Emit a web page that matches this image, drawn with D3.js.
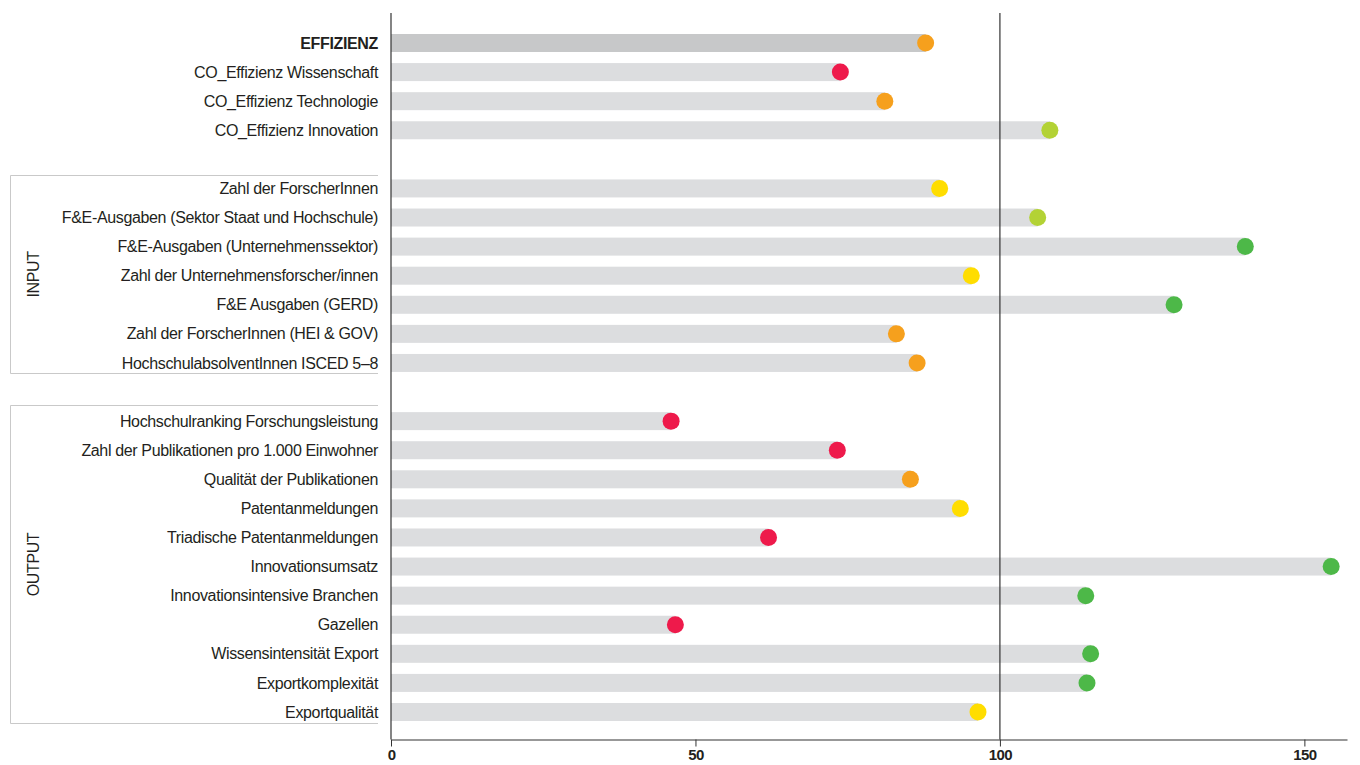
<!DOCTYPE html>
<html>
<head>
<meta charset="utf-8">
<script src="https://cdnjs.cloudflare.com/ajax/libs/d3/7.8.5/d3.min.js"></script>
<style>
    body { margin: 0; background: #fff; }
    svg text { font-family: "Liberation Sans", Arial, sans-serif; fill: #231f20; }
</style>
</head>
<body>
<div id="chart"></div>
<script>
'use strict';

// Indicator groups, values (index, 100 = reference)
const effizienzLabels = ['EFFIZIENZ', 'CO_Effizienz Wissenschaft', 'CO_Effizienz Technologie', 'CO_Effizienz Innovation'];
const effizienzValues = [87.8, 73.8, 81.1, 108.2];
const effizienzRating = ['orange', 'red', 'orange', 'lime'];

const inputLabels = ['Zahl der ForscherInnen', 'F&E-Ausgaben (Sektor Staat und Hochschule)', 'F&E-Ausgaben (Unternehmenssektor)',
    'Zahl der Unternehmensforscher/innen', 'F&E Ausgaben (GERD)', 'Zahl der ForscherInnen (HEI & GOV)', 'HochschulabsolventInnen ISCED 5–8'];
const inputValues = [90.1, 106.2, 140.3, 95.3, 128.6, 83.0, 86.4];
const inputRating = ['yellow', 'lime', 'green', 'yellow', 'green', 'orange', 'orange'];

const outputLabels = ['Hochschulranking Forschungsleistung', 'Zahl der Publikationen pro 1.000 Einwohner', 'Qualität der Publikationen',
    'Patentanmeldungen', 'Triadische Patentanmeldungen', 'Innovationsumsatz', 'Innovationsintensive Branchen', 'Gazellen',
    'Wissensintensität Export', 'Exportkomplexität', 'Exportqualität'];
const outputValues = [46.0, 73.3, 85.3, 93.5, 62.0, 154.4, 114.1, 46.7, 114.9, 114.3, 96.4];
const outputRating = ['red', 'red', 'orange', 'yellow', 'red', 'green', 'green', 'red', 'green', 'green', 'yellow'];

const xTicks = [0, 50, 100, 150];

const ratingColor = { red: '#ee1a4b', orange: '#f6a01d', yellow: '#ffdd00', lime: '#b3d235', green: '#4db848' };

const width = 1360, height = 765;
const barH = 18, dotR = 8.5;

const rows = [];
const addGroup = function(group, labels, values, rating) {
    labels.forEach((l, i) => rows.push({ key: l, name: l, value: values[i], rating: rating[i], group: group }));
};
addGroup('EFFIZIENZ', effizienzLabels, effizienzValues, effizienzRating);
rows.push({ key: 'gap1', name: null });
addGroup('INPUT', inputLabels, inputValues, inputRating);
rows.push({ key: 'gap2', name: null });
addGroup('OUTPUT', outputLabels, outputValues, outputRating);

const data = rows.filter(d => d.name !== null);

const x = d3.scaleLinear().domain([0, 157]).range([391, 1347]);
const y = d3.scalePoint().domain(rows.map(d => d.key)).range([43, 712]);

const svg = d3.select('#chart').append('svg').attr('width', width).attr('height', height);

// group frames (open on the right side)
const frames = [
    { label: 'INPUT', top: 175.5, bottom: 373.5 },
    { label: 'OUTPUT', top: 405.5, bottom: 723.5 }
];
svg.selectAll('.frame').data(frames).enter().append('path')
    .attr('class', 'frame')
    .attr('d', d => `M378,${d.top}H10.5V${d.bottom}H378`)
    .attr('fill', 'none')
    .attr('stroke', '#c9c9c9')
    .attr('stroke-width', 1);

svg.selectAll('.groupLabel').data(frames).enter().append('text')
    .attr('class', 'groupLabel')
    .attr('transform', d => `translate(33, ${(d.top + d.bottom) / 2}) rotate(-90)`)
    .attr('text-anchor', 'middle')
    .attr('dy', '0.35em')
    .style('font-size', '16px')
    .style('letter-spacing', '-0.4px')
    .text(d => d.label);

// bars
svg.selectAll('.bar').data(data).enter().append('rect')
    .attr('class', 'bar')
    .attr('x', x(0))
    .attr('y', d => y(d.key) - barH / 2)
    .attr('width', d => x(d.value) - x(0))
    .attr('height', barH)
    .attr('fill', d => d.name === 'EFFIZIENZ' ? '#c7c8c9' : '#dcdddf');

// reference line at 100
svg.append('line')
    .attr('x1', x(100)).attr('x2', x(100))
    .attr('y1', 13).attr('y2', 739.5)
    .attr('stroke', '#333').attr('stroke-width', 1.2);

// dots
svg.selectAll('.dot').data(data).enter().append('circle')
    .attr('class', 'dot')
    .attr('cx', d => x(d.value))
    .attr('cy', d => y(d.key))
    .attr('r', dotR)
    .attr('fill', d => ratingColor[d.rating]);

// row labels
svg.selectAll('.rowLabel').data(data).enter().append('text')
    .attr('class', 'rowLabel')
    .attr('x', 378)
    .attr('y', d => y(d.key))
    .attr('dy', '0.35em')
    .attr('text-anchor', 'end')
    .style('font-size', '16px')
    .style('letter-spacing', '-0.35px')
    .style('font-weight', d => d.name === 'EFFIZIENZ' ? 'bold' : 'normal')
    .text(d => d.name);

// y axis line
svg.append('line')
    .attr('x1', x(0)).attr('x2', x(0))
    .attr('y1', 13).attr('y2', 739.5)
    .attr('stroke', '#333').attr('stroke-width', 1.2);

// x axis
const xAxis = svg.append('g')
    .attr('transform', 'translate(0, 739.5)')
    .call(d3.axisBottom(x).tickValues(xTicks).tickSize(7).tickSizeOuter(0).tickPadding(3));
xAxis.select('.domain').attr('stroke', '#333').attr('stroke-width', 1.2);
xAxis.selectAll('.tick line').attr('stroke', '#333');
xAxis.selectAll('.tick text')
    .style('font-family', '"Liberation Sans", Arial, sans-serif')
    .style('font-size', '15px')
    .style('letter-spacing', '-0.6px')
    .style('font-weight', 'bold')
    .attr('fill', '#231f20');
</script>
</body>
</html>
